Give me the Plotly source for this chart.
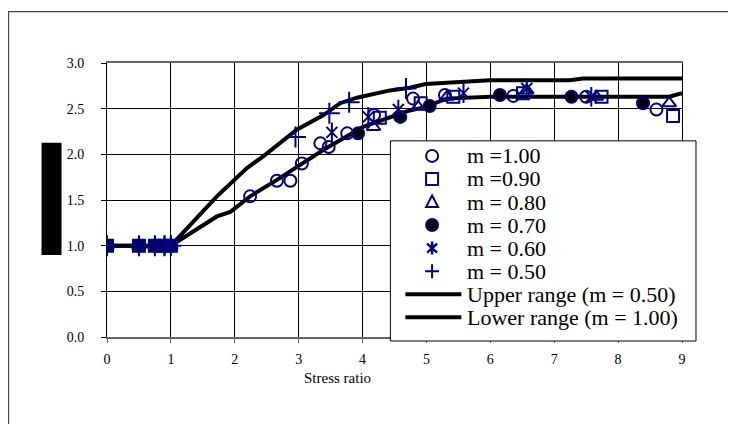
import plotly.graph_objects as go

# ---- data ----
m100_x = [0, 0.5, 0.75, 0.9, 1.0, 2.24, 2.66, 2.87, 3.05, 3.34, 3.47, 3.76, 4.18, 4.79, 5.29, 6.36, 7.50, 8.60]
m100_y = [1, 1, 1, 1, 1, 1.54, 1.71, 1.71, 1.90, 2.12, 2.08, 2.23, 2.43, 2.61, 2.65, 2.64, 2.63, 2.49]
m090_x = [0, 0.5, 0.75, 0.9, 1.0, 4.27, 4.91, 5.42, 6.51, 7.74, 8.86]
m090_y = [1, 1, 1, 1, 1, 2.40, 2.56, 2.63, 2.67, 2.63, 2.42]
m080_x = [0, 0.5, 0.75, 0.9, 1.0, 4.17, 4.87, 5.32, 6.57, 7.66, 8.80]
m080_y = [1, 1, 1, 1, 1, 2.30, 2.52, 2.63, 2.70, 2.63, 2.56]
m070_x = [0, 0.5, 0.75, 0.9, 1.0, 3.93, 4.59, 5.05, 6.15, 7.27, 8.39]
m070_y = [1, 1, 1, 1, 1, 2.23, 2.41, 2.53, 2.65, 2.63, 2.56]
m060_x = [0, 0.5, 0.75, 0.9, 1.0, 3.52, 4.09, 4.56, 5.58, 6.57, 7.58]
m060_y = [1, 1, 1, 1, 1, 2.24, 2.41, 2.49, 2.67, 2.72, 2.63]
m050_x = [0, 0.5, 0.75, 0.9, 1.0, 2.95, 3.48, 3.79, 4.68]
m050_y = [1, 1, 1, 1, 1, 2.19, 2.45, 2.57, 2.72]
upper_x = [0, 1, 1.72, 1.98, 2.19, 2.45, 2.97, 3.39, 3.65, 3.91, 4.43, 4.74, 4.99, 5.99, 7.24, 7.45, 9.0]
upper_y = [1, 1, 1.54, 1.72, 1.85, 1.98, 2.27, 2.43, 2.56, 2.62, 2.70, 2.73, 2.77, 2.81, 2.81, 2.83, 2.83]
lower_x = [0, 1, 1.72, 1.93, 2.24, 2.66, 3.39, 4.01, 4.69, 4.99, 5.31, 5.99, 8.8, 9.0]
lower_y = [1, 1, 1.32, 1.37, 1.54, 1.72, 2.05, 2.30, 2.47, 2.52, 2.61, 2.63, 2.63, 2.67]
x_ticks = [0, 1, 2, 3, 4, 5, 6, 7, 8, 9]
y_ticks = [0.0, 0.5, 1.0, 1.5, 2.0, 2.5, 3.0]
y_tick_labels = ["0.0", "0.5", "1.0", "1.5", "2.0", "2.5", "3.0"]
legend_labels = ["m =1.00", "m =0.90", "m = 0.80", "m = 0.70", "m = 0.60", "m = 0.50",
                 "Upper range (m = 0.50)", "Lower range (m = 1.00)"]
x_title = "Stress ratio"

NAVY = "#000080"
FONT = "Liberation Serif"
LW = 4

# page offset (browser body margin) and plot-area geometry in screen pixels
OFF = 8
SL, SR, ST, SB = 106.5, 681.7, 63.3, 336.7
W, H = 736, 424
L, R, T, B = SL - OFF, SR - OFF, ST - OFF, SB - OFF


def px(sx):
    return (sx - OFF - L) / (R - L)


def py(sy):
    return (B - (sy - OFF)) / (B - T)


fig = go.Figure()

fig.add_trace(go.Scatter(x=upper_x, y=upper_y, mode="lines", name=legend_labels[6],
                         line=dict(color="black", width=LW)))
fig.add_trace(go.Scatter(x=lower_x, y=lower_y, mode="lines", name=legend_labels[7],
                         line=dict(color="black", width=LW)))

mk = dict(color=NAVY, width=2)
fig.add_trace(go.Scatter(x=m100_x, y=m100_y, mode="markers", name=legend_labels[0],
                         marker=dict(symbol="circle-open", size=12, color=NAVY, line=mk)))
fig.add_trace(go.Scatter(x=m090_x, y=m090_y, mode="markers", name=legend_labels[1],
                         marker=dict(symbol="square-open", size=12, color=NAVY, line=mk)))
fig.add_trace(go.Scatter(x=m080_x, y=m080_y, mode="markers", name=legend_labels[2],
                         marker=dict(symbol="triangle-up-open", size=12, color=NAVY, line=mk)))
fig.add_trace(go.Scatter(x=m070_x, y=m070_y, mode="markers", name=legend_labels[3],
                         marker=dict(symbol="circle", size=12, color="black", line=mk)))
fig.add_trace(go.Scatter(x=m060_x, y=m060_y, mode="markers", name=legend_labels[4],
                         marker=dict(symbol="x-thin-open", size=11, color=NAVY, line=mk)))
fig.add_trace(go.Scatter(x=m060_x, y=m060_y, mode="markers", name=legend_labels[4],
                         marker=dict(symbol="line-ns-open", size=14, color=NAVY, line=mk)))
fig.add_trace(go.Scatter(x=m050_x, y=m050_y, mode="markers", name=legend_labels[5],
                         marker=dict(symbol="cross-thin-open", size=15, color=NAVY, line=mk)))

fig.update_layout(
    width=W, height=H,
    margin=dict(l=L, r=W - R, t=T, b=H - B),
    paper_bgcolor="white", plot_bgcolor="white",
    font=dict(family=FONT, color="black", size=14),
    showlegend=False,
    xaxis=dict(range=[0, 9], tickvals=x_ticks, showgrid=True, gridcolor="black", gridwidth=1,
               showline=True, linecolor="#666666", linewidth=1.5, mirror=True,
               ticks="outside", ticklen=4, tickcolor="#666666", zeroline=False,
               tickfont=dict(family=FONT, size=14), ticklabelstandoff=4),
    yaxis=dict(range=[0, 3], tickvals=y_ticks, ticktext=y_tick_labels, showgrid=True,
               gridcolor="black", gridwidth=1, showline=True, linecolor="black", linewidth=1,
               mirror=True, ticks="outside", ticklen=5, tickcolor="black", zeroline=False,
               tickfont=dict(family=FONT, size=14), ticklabelstandoff=14),
)

fig.add_annotation(text=x_title, xref="paper", yref="paper",
                   x=px(337), y=py(388), showarrow=False,
                   font=dict(family=FONT, size=15, color="black"))

# outer chart frame
fig.add_shape(type="rect", xref="paper", yref="paper",
              x0=px(8), x1=px(760), y0=py(440), y1=py(12),
              line=dict(color="#444444", width=1.2), layer="below")
# black block on the left (axis-title placeholder)
fig.add_shape(type="rect", xref="paper", yref="paper",
              x0=px(41), x1=px(61), y0=py(255), y1=py(143),
              fillcolor="black", line=dict(width=0))

# ---- legend box drawn as shapes + text ----
fig.add_shape(type="rect", xref="paper", yref="paper",
              x0=px(390), x1=px(695.7), y0=py(340.7), y1=py(141),
              fillcolor="white", line=dict(color="black", width=1), layer="above")

rows_y = [156 + 23 * k for k in range(8)]
mx = px(431.7)
pix = dict(xref="paper", yref="paper", xsizemode="pixel", ysizemode="pixel", layer="above")
nav = dict(color=NAVY, width=2)
# circle
fig.add_shape(type="circle", xanchor=mx, yanchor=py(rows_y[0]), x0=-6, x1=6, y0=-6, y1=6,
              line=nav, **pix)
# square
fig.add_shape(type="rect", xanchor=mx, yanchor=py(rows_y[1]), x0=-6, x1=6, y0=-6, y1=6,
              line=nav, **pix)
# triangle
fig.add_shape(type="path", xanchor=mx, yanchor=py(rows_y[2]), path="M-6,-5 L6,-5 L0,6.5 Z",
              line=nav, **pix)
# filled circle
fig.add_shape(type="circle", xanchor=mx, yanchor=py(rows_y[3]), x0=-6, x1=6, y0=-6, y1=6,
              line=nav, fillcolor="black", **pix)
# asterisk
fig.add_shape(type="path", xanchor=mx, yanchor=py(rows_y[4]),
              path="M-5,-4.5 L5,4.5 M-5,4.5 L5,-4.5 M0,-6.5 L0,6.5", line=dict(color=NAVY, width=2.5), **pix)
# plus
fig.add_shape(type="path", xanchor=mx, yanchor=py(rows_y[5]),
              path="M-7,0 L7,0 M0,-7 L0,7", line=nav, **pix)
# line samples
for ry in rows_y[6:]:
    fig.add_shape(type="line", xref="paper", yref="paper", x0=px(405), x1=px(461),
                  y0=py(ry), y1=py(ry), line=dict(color="black", width=LW), layer="above")

for lab, ry in zip(legend_labels, rows_y):
    fig.add_annotation(text=lab, xref="paper", yref="paper", x=px(465), y=py(ry),
                       xanchor="left", yanchor="middle", showarrow=False,
                       font=dict(family=FONT, size=22, color="black"))

fig.write_html("out.html")
